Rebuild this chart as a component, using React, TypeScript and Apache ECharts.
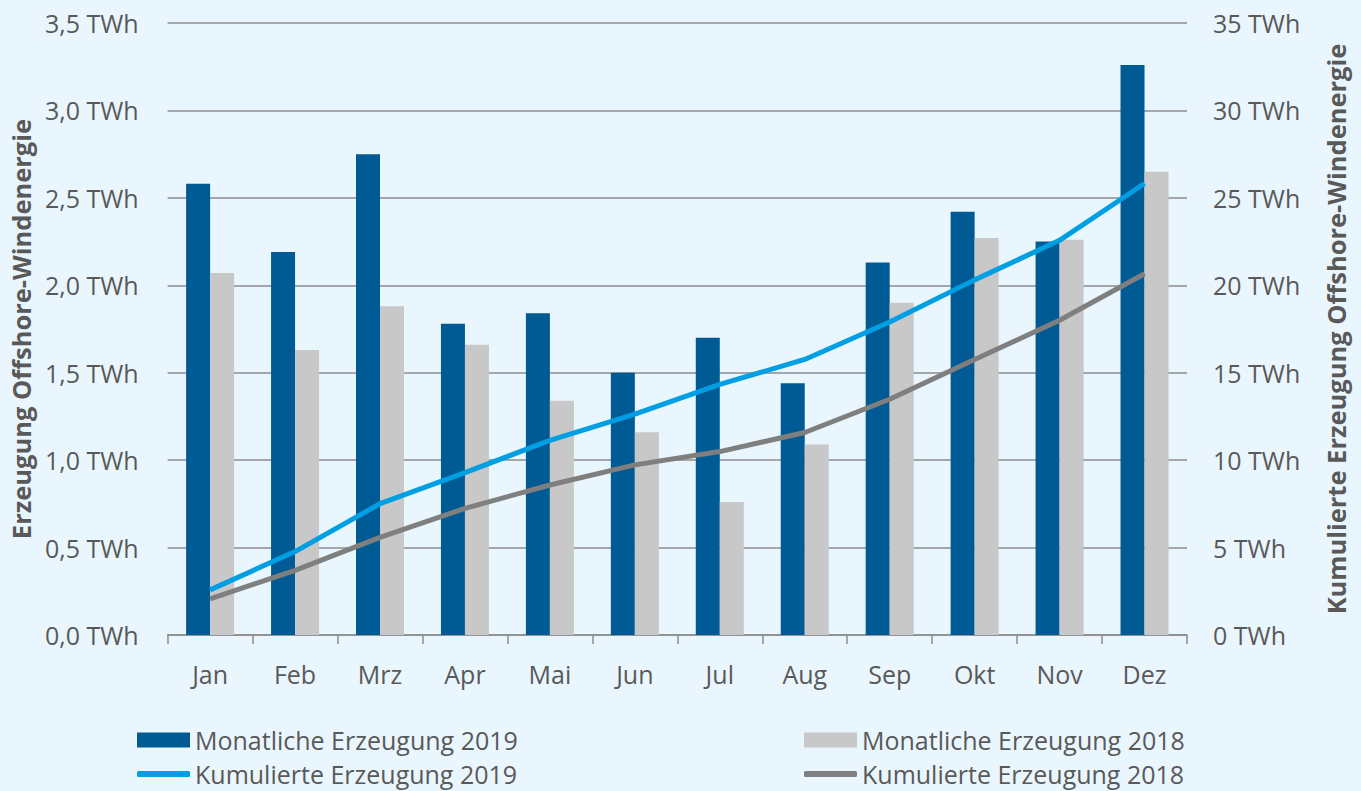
import React, { useEffect, useRef } from "react";
import * as echarts from "echarts";

const categories = ["Jan", "Feb", "Mrz", "Apr", "Mai", "Jun", "Jul", "Aug", "Sep", "Okt", "Nov", "Dez"];
const monthly2019 = [2.58, 2.19, 2.75, 1.78, 1.84, 1.5, 1.7, 1.44, 2.13, 2.42, 2.25, 3.26];
const monthly2018 = [2.07, 1.63, 1.88, 1.66, 1.34, 1.16, 0.76, 1.09, 1.9, 2.27, 2.26, 2.65];
const cumulative2019 = [2.58, 4.77, 7.51, 9.29, 11.13, 12.63, 14.33, 15.76, 17.9, 20.31, 22.57, 25.82];
const cumulative2018 = [2.07, 3.7, 5.58, 7.24, 8.58, 9.73, 10.49, 11.58, 13.48, 15.75, 18.0, 20.66];

const seriesNames = [
  "Monatliche Erzeugung 2019",
  "Monatliche Erzeugung 2018",
  "Kumulierte Erzeugung 2019",
  "Kumulierte Erzeugung 2018",
];

const FONT = "'Open Sans', 'Noto Sans', sans-serif";
const TEXT = "#595959";

export default function App() {
  const ref = useRef<HTMLDivElement>(null);
  useEffect(() => {
    if (!ref.current) return;
    const chart = echarts.init(ref.current, undefined, { renderer: "svg" });
    const legendText = { color: TEXT, fontSize: 25, fontFamily: FONT, lineHeight: 26 };
    const mkLegend = (name: string, left: number, top: number, isLine: boolean) => ({
      left,
      top,
      padding: 0,
      itemWidth: 53,
      itemHeight: isLine ? 6 : 15,
      icon: isLine ? "roundRect" : "rect",
      textStyle: legendText,
      data: [name],
    });
    chart.setOption({
      animation: false,
      backgroundColor: "#EAF6FE",
      textStyle: { fontFamily: FONT },
      grid: { left: 166, right: 174, top: 23, bottom: 156, containLabel: false },
      legend: [
        mkLegend(seriesNames[0], 137, 727, false),
        mkLegend(seriesNames[2], 137, 761, true),
        mkLegend(seriesNames[1], 804, 727, false),
        mkLegend(seriesNames[3], 804, 761, true),
      ],
      xAxis: {
        type: "category",
        data: categories,
        axisLine: { lineStyle: { color: "#8C8C8C", width: 1.5 } },
        axisTick: { show: true, length: 9, lineStyle: { color: "#8C8C8C", width: 1.5 } },
        axisLabel: { color: TEXT, fontSize: 25, margin: 26, fontFamily: FONT },
      },
      yAxis: [
        {
          type: "value",
          min: 0,
          max: 3.5,
          interval: 0.5,
          name: "Erzeugung Offshore-Windenergie",
          nameLocation: "middle",
          nameGap: 133,
          nameRotate: 90,
          nameTextStyle: { color: TEXT, fontSize: 25.5, fontWeight: "bold", fontFamily: FONT },
          axisLine: { show: false },
          axisTick: { show: false },
          axisLabel: {
            color: TEXT,
            fontSize: 25,
            margin: 29,
            fontFamily: FONT,
            formatter: (v: number) => v.toFixed(1).replace(".", ",") + " TWh",
          },
          splitLine: { lineStyle: { color: "#8C8C8C", width: 1.5 } },
        },
        {
          type: "value",
          min: 0,
          max: 35,
          interval: 5,
          name: "Kumulierte Erzeugung Offshore-Windenergie",
          nameLocation: "middle",
          nameGap: 136,
          nameRotate: 90,
          nameTextStyle: { color: TEXT, fontSize: 25.5, fontWeight: "bold", fontFamily: FONT },
          axisLine: { show: false },
          axisTick: { show: false },
          axisLabel: {
            color: TEXT,
            fontSize: 25,
            margin: 26,
            fontFamily: FONT,
            formatter: (v: number) => v + " TWh",
          },
          splitLine: { show: false },
        },
      ],
      series: [
        {
          name: seriesNames[0],
          type: "bar",
          data: monthly2019,
          barWidth: 24,
          barGap: "0%",
          itemStyle: { color: "#005A94" },
        },
        {
          name: seriesNames[1],
          type: "bar",
          data: monthly2018,
          barWidth: 24,
          barGap: "0%",
          itemStyle: { color: "#C8C8C8" },
        },
        {
          name: seriesNames[2],
          type: "line",
          yAxisIndex: 1,
          data: cumulative2019,
          symbol: "none",
          lineStyle: { color: "#009FE3", width: 5 },
          itemStyle: { color: "#009FE3" },
        },
        {
          name: seriesNames[3],
          type: "line",
          yAxisIndex: 1,
          data: cumulative2018,
          symbol: "none",
          lineStyle: { color: "#7F7F7F", width: 5 },
          itemStyle: { color: "#7F7F7F" },
        },
      ],
    });
    return () => chart.dispose();
  }, []);
  return (
    <div
      ref={ref}
      style={{ position: "absolute", left: 0, top: 0, width: 1361, height: 791 }}
    />
  );
}
